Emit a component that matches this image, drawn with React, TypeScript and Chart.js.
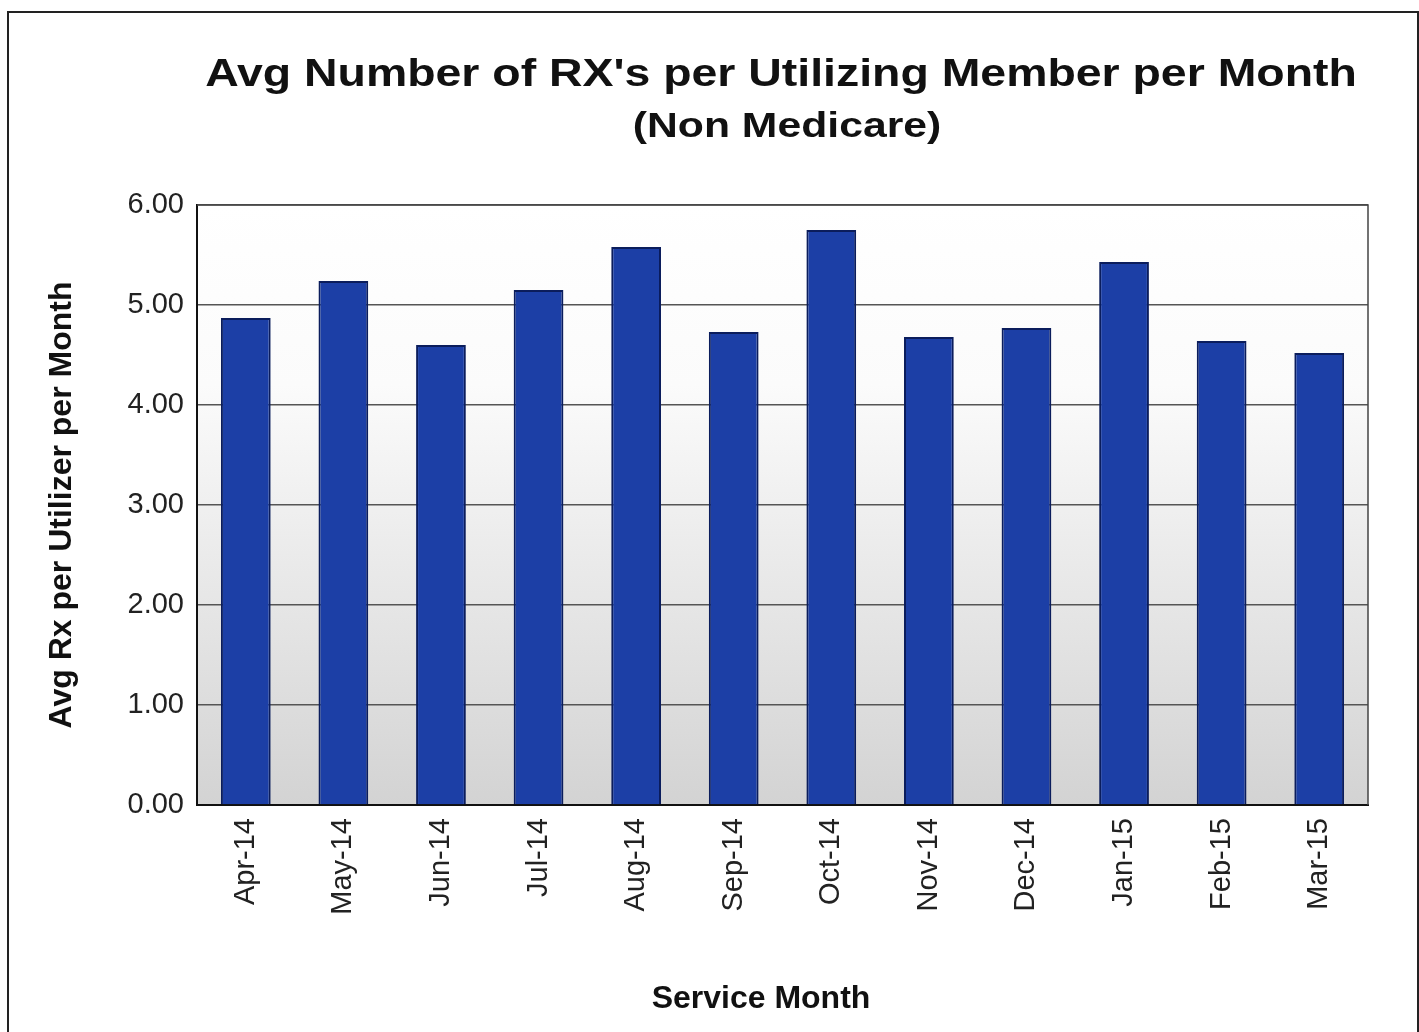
import { useEffect, useRef } from 'react';
import { Chart, registerables } from 'chart.js';

Chart.register(...registerables);

const months = ['Apr-14', 'May-14', 'Jun-14', 'Jul-14', 'Aug-14', 'Sep-14', 'Oct-14', 'Nov-14', 'Dec-14', 'Jan-15', 'Feb-15', 'Mar-15'];
const avgRx = [4.87, 5.24, 4.6, 5.15, 5.58, 4.73, 5.75, 4.68, 4.77, 5.43, 4.64, 4.52];
const yMin = 0;
const yMax = 6;
const yStep = 1;
const titleLine1 = "Avg Number of RX's per Utilizing Member per Month";
const titleLine2 = '(Non Medicare)';
const xTitle = 'Service Month';
const yTitle = 'Avg Rx per Utilizer per Month';

const FONT = '"Liberation Sans", Arial, Helvetica, sans-serif';

const decor = {
  id: 'decor',
  beforeDraw(chart: any) {
    const { ctx, chartArea: a, width, height } = chart;
    ctx.save();
    ctx.fillStyle = '#ffffff';
    ctx.fillRect(0, 0, width, height);
    const g = ctx.createLinearGradient(0, a.top, 0, a.bottom);
    g.addColorStop(0, '#ffffff');
    g.addColorStop(0.3, '#fbfbfb');
    g.addColorStop(1, '#d3d3d3');
    ctx.fillStyle = g;
    ctx.fillRect(a.left, a.top, a.right - a.left, a.bottom - a.top);
    ctx.restore();
  },
  afterDraw(chart: any) {
    const { ctx, chartArea: a } = chart;
    ctx.save();
    // outer frame
    ctx.strokeStyle = '#222';
    ctx.lineWidth = 2;
    ctx.strokeRect(8, 12, 1410, 1040);
    // top and right plot border
    ctx.strokeStyle = '#444';
    ctx.lineWidth = 1.5;
    ctx.beginPath();
    ctx.moveTo(a.left, a.top);
    ctx.lineTo(a.right, a.top);
    ctx.lineTo(a.right, a.bottom);
    ctx.stroke();
    // titles
    ctx.fillStyle = '#111';
    ctx.textAlign = 'center';
    ctx.textBaseline = 'alphabetic';
    ctx.save();
    ctx.translate(781, 86);
    ctx.scale(1.19, 1);
    ctx.font = `bold 39px ${FONT}`;
    ctx.fillText(titleLine1, 0, 0);
    ctx.restore();
    ctx.save();
    ctx.translate(787, 137);
    ctx.scale(1.22, 1);
    ctx.font = `bold 35px ${FONT}`;
    ctx.fillText(titleLine2, 0, 0);
    ctx.restore();
    ctx.font = `bold 32px ${FONT}`;
    ctx.fillText(xTitle, 761, 1008);
    ctx.restore();
  },
};

export default function App() {
  const ref = useRef<HTMLCanvasElement>(null);
  useEffect(() => {
    if (!ref.current) return;
    const chart = new Chart(ref.current, {
      type: 'bar',
      data: {
        labels: months,
        datasets: [
          {
            data: avgRx,
            backgroundColor: '#1c3fa6',
            borderColor: '#0b1d5c',
            borderWidth: 2,
            barPercentage: 0.51,
            categoryPercentage: 1,
          },
        ],
      },
      options: {
        responsive: false,
        animation: false,
        layout: { padding: { top: 205, left: 0, right: 51, bottom: 0 } },
        plugins: {
          legend: { display: false },
          title: { display: false },
          tooltip: { enabled: false },
        },
        scales: {
          x: {
            grid: { display: false, drawTicks: false },
            border: { display: true, color: '#111', width: 2 },
            ticks: {
              autoSkip: false,
              minRotation: 90,
              maxRotation: 90,
              padding: 13,
              color: '#222',
              font: { family: FONT, size: 29 },
            },
            afterFit: (s: any) => {
              s.height = 1032 - 805;
            },
          },
          y: {
            min: yMin,
            max: yMax,
            grid: { color: '#555', lineWidth: 1.5, drawTicks: false },
            border: { display: true, color: '#111', width: 2 },
            ticks: {
              stepSize: yStep,
              padding: 13,
              color: '#222',
              font: { family: FONT, size: 29 },
              callback: (v: any) => Number(v).toFixed(2),
            },
            title: {
              display: true,
              text: yTitle,
              color: '#111',
              font: { family: FONT, size: 32, weight: 'bold' },
              padding: { top: 43, bottom: 0 },
            },
            afterFit: (s: any) => {
              s.width = 197;
            },
          },
        },
      },
      plugins: [decor],
    });
    return () => chart.destroy();
  }, []);
  return (
    <canvas
      ref={ref}
      width={1419}
      height={1032}
      style={{ position: 'fixed', left: 0, top: 0, display: 'block' }}
    />
  );
}
